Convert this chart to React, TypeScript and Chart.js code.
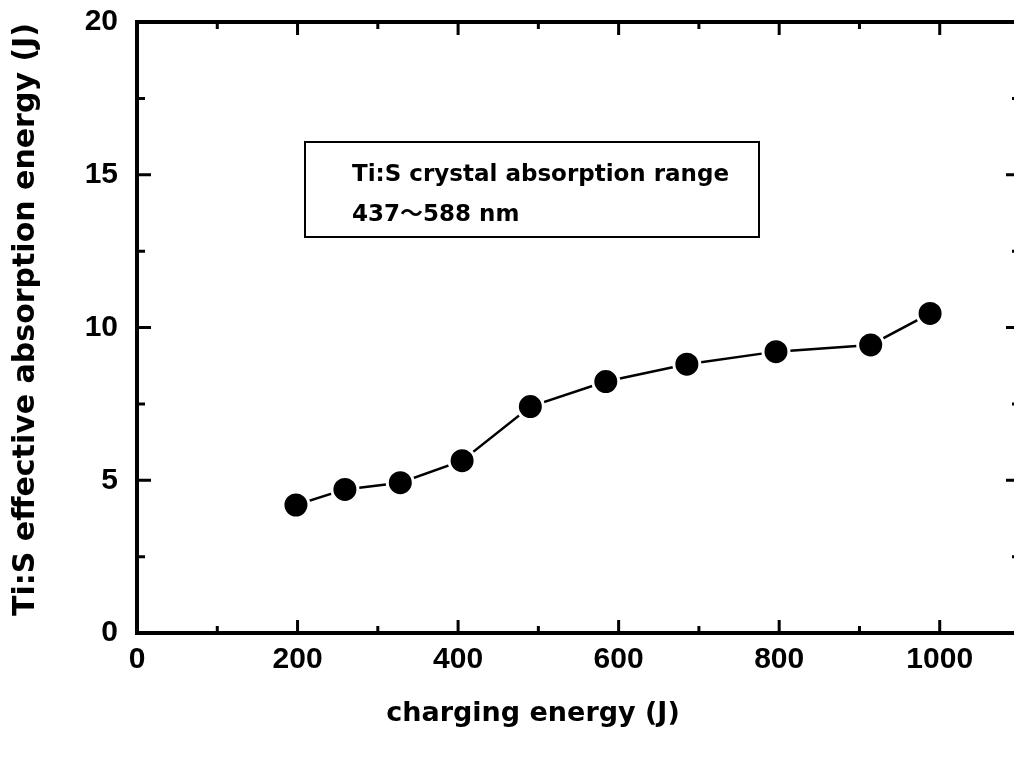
import React, { useEffect, useRef } from "react";
import { Chart, registerables } from "chart.js";

Chart.register(...registerables);

// ---- data ----
const chargingEnergy = [198, 259, 328, 405, 490, 584, 685, 796, 914, 988];
const absorptionEnergy = [4.19, 4.7, 4.92, 5.64, 7.41, 8.23, 8.8, 9.21, 9.43, 10.46];

const xTickValues = [0, 200, 400, 600, 800, 1000];
const xMinorValues = [100, 300, 500, 700, 900];
const yTickValues = [0, 5, 10, 15, 20];
const yMinorValues = [2.5, 7.5, 12.5, 17.5];

const xTitle = "charging energy (J)";
const yTitle = "Ti:S effective absorption energy (J)";
const noteLines = ["Ti:S crystal absorption range", "437〜588 nm"];

const framePlugin = {
  id: "framePlugin",
  afterDraw(chart: any) {
    const { ctx, chartArea } = chart;
    const { left, right, top, bottom } = chartArea;
    const xs = chart.scales.x;
    const ys = chart.scales.y;
    ctx.save();
    ctx.strokeStyle = "#000";
    ctx.lineCap = "butt";

    // frame
    ctx.lineWidth = 4;
    ctx.strokeRect(left, top, right - left, bottom - top);

    // inward ticks
    ctx.lineWidth = 3;
    const vTick = (px: number, len: number) => {
      ctx.beginPath();
      ctx.moveTo(px, bottom);
      ctx.lineTo(px, bottom - len);
      ctx.moveTo(px, top);
      ctx.lineTo(px, top + len);
      ctx.stroke();
    };
    const hTick = (py: number, len: number) => {
      ctx.beginPath();
      ctx.moveTo(left, py);
      ctx.lineTo(left + len, py);
      ctx.moveTo(right, py);
      ctx.lineTo(right - len, py);
      ctx.stroke();
    };
    xTickValues.forEach((v) => vTick(xs.getPixelForValue(v), 13));
    xMinorValues.forEach((v) => vTick(xs.getPixelForValue(v), 7));
    yTickValues.forEach((v) => hTick(ys.getPixelForValue(v), 14));
    yMinorValues.forEach((v) => hTick(ys.getPixelForValue(v), 8));

    // note box
    const bx = left + 168;
    const by = top + 120;
    const bw = 454;
    const bh = 95;
    ctx.lineWidth = 2;
    ctx.strokeRect(bx, by, bw, bh);
    ctx.fillStyle = "#000";
    ctx.font = 'bold 23px "DejaVu Sans", "Noto Sans CJK JP", sans-serif';
    ctx.textAlign = "left";
    ctx.textBaseline = "alphabetic";
    ctx.fillText(noteLines[0], bx + 47, by + 39);
    ctx.fillText(noteLines[1], bx + 47, by + 79);

    // axis titles
    ctx.font = 'bold 27px "DejaVu Sans", sans-serif';
    ctx.textAlign = "center";
    ctx.fillText(xTitle, left + 396, 721);

    ctx.save();
    ctx.translate(34, (top + bottom) / 2 - 8);
    ctx.rotate(-Math.PI / 2);
    ctx.font = 'bold 30px "DejaVu Sans", sans-serif';
    ctx.textAlign = "center";
    ctx.textBaseline = "alphabetic";
    ctx.fillText(yTitle, 0, 0);
    ctx.restore();

    ctx.restore();
  },
};

export default function App() {
  const canvasRef = useRef<HTMLCanvasElement | null>(null);

  useEffect(() => {
    if (!canvasRef.current) return;
    const tickFont = { family: '"Liberation Sans", Arial, sans-serif', size: 30, weight: "bold" as const, lineHeight: 1 };
    const chart = new Chart(canvasRef.current, {
      type: "line",
      data: {
        datasets: [
          {
            data: chargingEnergy.map((x, i) => ({ x, y: absorptionEnergy[i] })),
            borderColor: "#000",
            borderWidth: 2.5,
            backgroundColor: "#000",
            pointRadius: 13,
            pointBackgroundColor: "#000",
            pointBorderColor: "#fff",
            pointBorderWidth: 3,
            tension: 0,
            fill: false,
          },
        ],
      },
      options: {
        animation: false,
        responsive: false,
        devicePixelRatio: 1,
        layout: { padding: { top: 22, right: 20, left: 0, bottom: 0 } },
        plugins: {
          legend: { display: false },
          tooltip: { enabled: false },
        },
        scales: {
          x: {
            type: "linear",
            min: 0,
            max: 1100,
            grid: { display: false, drawTicks: false },
            border: { display: false },
            ticks: {
              font: tickFont,
              color: "#000",
              padding: 12,
              maxRotation: 0,
              callback: (v: any) => String(v),
            },
            afterBuildTicks: (s: any) => {
              s.ticks = xTickValues.map((v) => ({ value: v }));
            },
            afterFit: (s: any) => {
              s.height = 124;
              s.paddingLeft = 0;
              s.paddingRight = 0;
            },
          },
          y: {
            type: "linear",
            min: 0,
            max: 20,
            grid: { display: false, drawTicks: false },
            border: { display: false },
            ticks: { font: tickFont, color: "#000", padding: 19, callback: (v: any) => String(v) },
            afterBuildTicks: (s: any) => {
              s.ticks = yTickValues.map((v) => ({ value: v }));
            },
            afterFit: (s: any) => {
              s.width = 137;
              s.paddingTop = 0;
              s.paddingBottom = 0;
            },
          },
        },
      },
      plugins: [framePlugin],
    });
    return () => chart.destroy();
  }, []);

  return (
    <div
      style={{
        position: "fixed",
        left: 0,
        top: 0,
        width: 1014,
        height: 757,
        overflow: "hidden",
        background: "#fff",
      }}
    >
      <canvas ref={canvasRef} width={1040} height={757} style={{ display: "block", width: 1040, height: 757 }} />
    </div>
  );
}
